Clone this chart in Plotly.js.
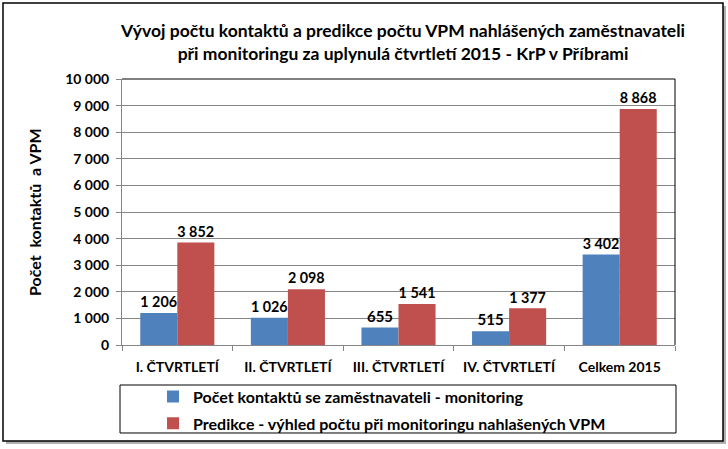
<!DOCTYPE html>
<html>
<head>
<meta charset="utf-8">
<script src="https://cdn.plot.ly/plotly-3.0.1.min.js"></script>
<style>html,body{margin:0;padding:0;background:#fff;}#chart{width:728px;height:449px;}</style>
</head>
<body>
<div id="chart"></div>
<script>
var categories = ["I. ČTVRTLETÍ", "II. ČTVRTLETÍ", "III. ČTVRTLETÍ", "IV. ČTVRTLETÍ", "Celkem 2015"];
var contacts = [1206, 1026, 655, 515, 3402];
var prediction = [3852, 2098, 1541, 1377, 8868];
var seriesNames = ["Počet kontaktů se zaměstnavateli - monitoring", "Predikce - výhled počtu při monitoringu nahlašených VPM"];
var yTicks = [0, 1000, 2000, 3000, 4000, 5000, 6000, 7000, 8000, 9000, 10000];

var FONT = "Lato, 'Open Sans', sans-serif";

var traces = [
  {type: "bar", name: seriesNames[0], x: categories, y: contacts, legendgroup: "a",
   marker: {color: "#4F81BD"}, texttemplate: "%{y:,d}", textposition: "outside",
   textfont: {family: FONT, size: 15, color: "#000", weight: "bold"}, cliponaxis: false, hoverinfo: "none"},
  {type: "bar", name: seriesNames[1], x: categories, y: prediction, legendgroup: "b",
   marker: {color: "#C0504D"}, texttemplate: "%{y:,d}", textposition: "outside",
   textfont: {family: FONT, size: 15, color: "#000", weight: "bold"}, cliponaxis: false, hoverinfo: "none"}
];

var layout = {
  width: 728, height: 449,
  margin: {l: 122, r: 53, t: 79, b: 104, autoexpand: false},
  paper_bgcolor: "#fff", plot_bgcolor: "#fff",
  separators: ", ",
  font: {family: FONT, color: "#000"},
  barmode: "group", bargap: 0.33, bargroupgap: 0,
  showlegend: true,
  title: {
    text: "Vývoj počtu kontaktů a predikce počtu VPM nahlášených zaměstnavateli<br>při monitoringu za uplynulá čtvrtletí 2015 - KrP v Příbrami",
    font: {family: FONT, size: 17.5, weight: "bold", color: "#000"},
    x: 0.5536, xref: "container", xanchor: "center",
    y: 1 - 37/449, yref: "container", yanchor: "middle"
  },
  xaxis: {
    type: "category", tickson: "boundaries", ticks: "outside", ticklen: 5, tickcolor: "#868686",
    showline: true, linecolor: "#868686", linewidth: 1, showgrid: false, ticklabelstandoff: 9,
    tickfont: {family: FONT, size: 14, weight: "bold", color: "#000"}, fixedrange: true, automargin: false
  },
  yaxis: {
    range: [0, 10000], tickvals: yTicks, tickformat: ",d", ticks: "outside", ticklen: 5, tickcolor: "#868686",
    showline: true, linecolor: "#868686", linewidth: 1, ticklabelstandoff: 4,
    showgrid: true, gridcolor: "#868686", gridwidth: 1, zeroline: false,
    tickfont: {family: FONT, size: 14, weight: "bold", color: "#000"}, fixedrange: true, automargin: false
  },
  legend: {
    x: 0.0561, xanchor: "left", y: -0.13, yanchor: "top", orientation: "v",
    bgcolor: "rgba(0,0,0,0)", borderwidth: 0,
    font: {family: FONT, size: 16, weight: "bold", color: "#000"},
    itemwidth: 30, tracegroupgap: 3
  },
  annotations: [
    {text: "Počet  kontaktů  a VPM", textangle: -90, xref: "paper", yref: "paper",
     x: -0.159, y: 0.5, xanchor: "center", yanchor: "middle", showarrow: false,
     font: {family: FONT, size: 16, weight: "bold", color: "#000"}}
  ],
  shapes: [
    {type: "rect", xref: "paper", yref: "paper", x0: -0.2098, x1: 1.0922, y0: 1.2744, y1: -0.3722,
     line: {width: 0}, fillcolor: "#b0b0b0", layer: "below"},
    {type: "rect", xref: "paper", yref: "paper", x0: -0.2152, x1: 1.0868, y0: 1.2857, y1: -0.3609,
     line: {width: 1.5, color: "#000"}, fillcolor: "#fff", layer: "below"},
    {type: "line", xref: "paper", yref: "paper", x0: 0, x1: 1, y0: 1, y1: 1, line: {width: 1, color: "#000"}},
    {type: "line", xref: "paper", yref: "paper", x0: 1, x1: 1, y0: 0, y1: 1, line: {width: 1, color: "#000"}},
    {type: "rect", xref: "paper", yref: "paper", x0: -0.0036, x1: 1.0018, y0: -0.1504, y1: -0.3308,
     line: {width: 1, color: "#000"}, fillcolor: "rgba(0,0,0,0)"}
  ]
};

Plotly.newPlot("chart", traces, layout, {displayModeBar: false, staticPlot: true});
</script>
</body>
</html>
